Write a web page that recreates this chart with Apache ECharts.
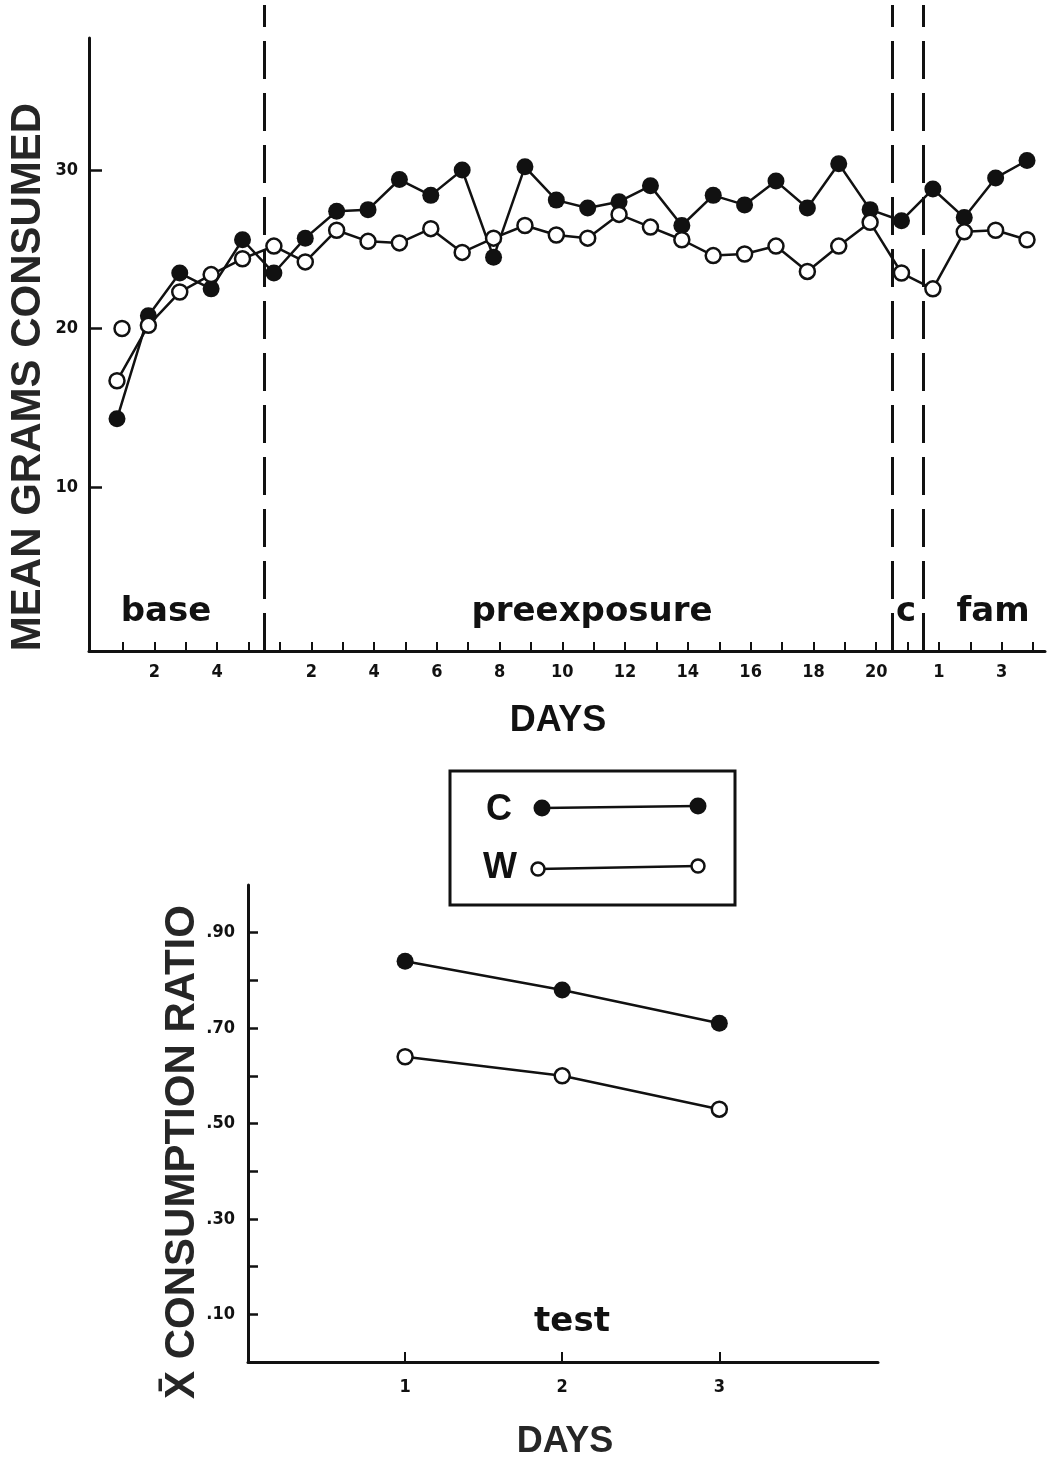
<!DOCTYPE html>
<html>
<head>
<meta charset="utf-8">
<script src="https://cdn.jsdelivr.net/npm/echarts@6/dist/echarts.min.js"></script>
<style>
  html, body { margin: 0; padding: 0; background: #fff; }
  #chart { width: 1053px; height: 1459px; }
</style>
</head>
<body>
<div id="chart"></div>
<script>
// ---------- DATA ----------
// Top panel: mean grams consumed per day, by phase
const phases = ['base', 'preexposure', 'c', 'fam'];
const baseC = [14.3, 20.8, 23.5, 22.5, 25.6];
const preC  = [23.5, 25.7, 27.4, 27.5, 29.4, 28.4, 30.0, 24.5, 30.2, 28.1, 27.6, 28.0, 29.0, 26.5, 28.4, 27.8, 29.3, 27.6, 30.4, 27.5];
const condC = [26.8];
const famC  = [28.8, 27.0, 29.5, 30.6];
const baseW = [16.7, 20.2, 22.3, 23.4, 24.4];
const preW  = [25.2, 24.2, 26.2, 25.5, 25.4, 26.3, 24.8, 25.7, 26.5, 25.9, 25.7, 27.2, 26.4, 25.6, 24.6, 24.7, 25.2, 23.6, 25.2, 26.7];
const condW = [23.5];
const famW  = [22.5, 26.1, 26.2, 25.6];
// lone open circle near base day 1
const extraW = [[1.16, 20.0]];
// tick labels along the day axis (one per day position)
const dayTickLabels = ['', '2', '', '4', '',
  '', '2', '', '4', '', '6', '', '8', '', '10', '', '12', '', '14', '', '16', '', '18', '', '20',
  '',
  '1', '', '3', ''];
const gramTicks = [10, 20, 30];
const phaseBounds = [5.5, 25.5, 26.5];

// Bottom panel: mean consumption ratio on test days
const testDays = [1, 2, 3];
const ratioC = [0.84, 0.78, 0.71];
const ratioW = [0.64, 0.60, 0.53];
const ratioTicks = [0.1, 0.2, 0.3, 0.4, 0.5, 0.6, 0.7, 0.8, 0.9];
const ratioLabelVals = [0.1, 0.3, 0.5, 0.7, 0.9];
const ratioLabels = ['.10', '.30', '.50', '.70', '.90'];

// ---------- BUILD ----------
const allC = baseC.concat(preC, condC, famC);
const allW = baseW.concat(preW, condW, famW);
const cPts = allC.map((v, i) => [i + 1, v]);
const wPts = allW.map((v, i) => [i + 1, v]);
const dayPositions = dayTickLabels.map((_, i) => i + 1);
const dayLabelPositions = dayPositions.filter(p => dayTickLabels[p - 1] !== '');

const INK = '#111';
const TITLE = '#262626';
const narrow = '"DejaVu Sans Condensed", "Liberation Sans Narrow", "Roboto", sans-serif';
const bold = '"Liberation Sans", Arial, sans-serif';
const wide = '"DejaVu Sans", sans-serif';

const filledStyle = { color: INK, opacity: 1 };
const openStyle = { color: '#fff', borderColor: INK, borderWidth: 2.5, opacity: 1 };

const chart = echarts.init(document.getElementById('chart'), null, { renderer: 'canvas' });

const tickAxisMin = -0.0835, tickAxisMax = 30.38;
const tickFont = { color: INK, fontFamily: narrow, fontWeight: 'bold', fontSize: 18 };

chart.setOption({
  animation: false,
  backgroundColor: '#fff',
  grid: [
    { left: 89, right: 8, top: 38, bottom: 808 },
    { left: 89, right: 8, top: 5, bottom: 808 },
    { left: 248, right: 175, top: 885, bottom: 97 }
  ],
  xAxis: [
    { gridIndex: 0, type: 'value', min: 0.108, max: 30.573, show: false, position: 'bottom' },
    {
      gridIndex: 0, type: 'value', min: tickAxisMin, max: tickAxisMax, position: 'bottom',
      axisLine: { show: true, onZero: false, lineStyle: { color: INK, width: 3 } },
      axisTick: { show: true, inside: true, length: 9, lineStyle: { color: INK, width: 2 }, customValues: dayPositions },
      axisLabel: Object.assign({
        show: true, customValues: dayLabelPositions, margin: 12,
        formatter: v => dayTickLabels[Math.round(v) - 1]
      }, tickFont),
      splitLine: { show: false }
    },
    { gridIndex: 1, type: 'value', min: tickAxisMin, max: tickAxisMax, show: false },
    {
      gridIndex: 2, type: 'value', min: 0, max: 4.01,
      axisLine: { show: true, onZero: false, lineStyle: { color: INK, width: 3 } },
      axisTick: { show: true, inside: true, length: 10, lineStyle: { color: INK, width: 2 }, customValues: testDays },
      axisLabel: Object.assign({ show: true, customValues: testDays, margin: 16 }, tickFont),
      splitLine: { show: false }
    }
  ],
  yAxis: [
    {
      gridIndex: 0, type: 'value', min: -0.35, max: 38.33,
      axisLine: { show: true, onZero: false, lineStyle: { color: INK, width: 3 } },
      axisTick: { show: true, inside: true, length: 13, lineStyle: { color: INK, width: 2.5 }, customValues: gramTicks },
      axisLabel: Object.assign({ show: true, customValues: gramTicks, margin: 11 }, tickFont),
      splitLine: { show: false }
    },
    { gridIndex: 1, type: 'value', min: 0, max: 1, show: false },
    {
      gridIndex: 2, type: 'value', min: 0, max: 1.0,
      axisLine: { show: true, onZero: false, lineStyle: { color: INK, width: 3 } },
      axisTick: { show: true, inside: true, length: 10, lineStyle: { color: INK, width: 2.5 }, customValues: ratioTicks },
      axisLabel: Object.assign({
        show: true, customValues: ratioLabelVals, margin: 13,
        formatter: v => ratioLabels[ratioLabelVals.findIndex(t => Math.abs(t - v) < 1e-6)]
      }, tickFont),
      splitLine: { show: false }
    }
  ],
  series: [
    {
      name: 'C', type: 'line', xAxisIndex: 0, yAxisIndex: 0, data: cPts,
      symbol: 'circle', symbolSize: 17, itemStyle: filledStyle,
      lineStyle: { color: INK, width: 2.5 }, z: 3
    },
    {
      name: 'W', type: 'line', xAxisIndex: 0, yAxisIndex: 0, data: wPts,
      symbol: 'circle', symbolSize: 15, itemStyle: openStyle,
      lineStyle: { color: INK, width: 2.5 }, z: 4
    },
    {
      name: 'W extra', type: 'scatter', xAxisIndex: 0, yAxisIndex: 0, data: extraW,
      symbol: 'circle', symbolSize: 15, itemStyle: openStyle, z: 4
    },
    {
      name: 'phases', type: 'line', xAxisIndex: 2, yAxisIndex: 1, data: [],
      markLine: {
        silent: true, symbol: 'none', label: { show: false },
        lineStyle: { color: INK, width: 3, type: [38, 14] },
        data: phaseBounds.map(v => ({ xAxis: v }))
      }
    },
    {
      name: 'C test', type: 'line', xAxisIndex: 3, yAxisIndex: 2,
      data: testDays.map((d, i) => [d, ratioC[i]]),
      symbol: 'circle', symbolSize: 17, itemStyle: filledStyle,
      lineStyle: { color: INK, width: 2.5 }
    },
    {
      name: 'W test', type: 'line', xAxisIndex: 3, yAxisIndex: 2,
      data: testDays.map((d, i) => [d, ratioW[i]]),
      symbol: 'circle', symbolSize: 15, itemStyle: openStyle,
      lineStyle: { color: INK, width: 2.5 }
    }
  ],
  graphic: [
    // axis titles
    { type: 'text', x: 28, y: 377, rotation: Math.PI / 2,
      style: { text: 'MEAN GRAMS CONSUMED', font: 'bold 42px ' + bold, fill: TITLE, textAlign: 'center', textVerticalAlign: 'middle' } },
    { type: 'text', x: 558, y: 721,
      style: { text: 'DAYS', font: 'bold 36px ' + bold, fill: INK, textAlign: 'center', textVerticalAlign: 'middle' } },
    { type: 'text', x: 182, y: 1152, rotation: Math.PI / 2,
      style: { text: 'X\u0304 CONSUMPTION RATIO', font: 'bold 42px ' + bold, fill: TITLE, textAlign: 'center', textVerticalAlign: 'middle' } },
    { type: 'text', x: 565, y: 1442,
      style: { text: 'DAYS', font: 'bold 36px ' + bold, fill: TITLE, textAlign: 'center', textVerticalAlign: 'middle' } },
    // phase labels
    { type: 'text', x: 166, y: 612, style: { text: phases[0], font: 'bold 34px ' + wide, fill: INK, textAlign: 'center', textVerticalAlign: 'middle' } },
    { type: 'text', x: 592, y: 612, style: { text: phases[1], font: 'bold 34px ' + wide, fill: INK, textAlign: 'center', textVerticalAlign: 'middle' } },
    { type: 'text', x: 906, y: 612, style: { text: phases[2], font: 'bold 34px ' + wide, fill: INK, textAlign: 'center', textVerticalAlign: 'middle' } },
    { type: 'text', x: 993, y: 612, style: { text: phases[3], font: 'bold 34px ' + wide, fill: INK, textAlign: 'center', textVerticalAlign: 'middle' } },
    { type: 'text', x: 572, y: 1322, style: { text: 'test', font: 'bold 34px ' + wide, fill: INK, textAlign: 'center', textVerticalAlign: 'middle' } },
    // legend box
    { type: 'rect', shape: { x: 450, y: 771, width: 285, height: 134 }, style: { fill: 'none', stroke: INK, lineWidth: 3 } },
    { type: 'text', x: 499, y: 810, style: { text: 'C', font: 'bold 36px ' + bold, fill: INK, textAlign: 'center', textVerticalAlign: 'middle' } },
    { type: 'text', x: 500, y: 868, style: { text: 'W', font: 'bold 36px ' + bold, fill: INK, textAlign: 'center', textVerticalAlign: 'middle' } },
    { type: 'line', shape: { x1: 542, y1: 808, x2: 698, y2: 806 }, style: { stroke: INK, lineWidth: 2.5 } },
    { type: 'circle', shape: { cx: 542, cy: 808, r: 8.5 }, style: { fill: INK } },
    { type: 'circle', shape: { cx: 698, cy: 806, r: 8.5 }, style: { fill: INK } },
    { type: 'line', shape: { x1: 538, y1: 869, x2: 698, y2: 866 }, style: { stroke: INK, lineWidth: 2.5 } },
    { type: 'circle', shape: { cx: 538, cy: 869, r: 6.5 }, style: { fill: '#fff', stroke: INK, lineWidth: 2.5 }, z: 10 },
    { type: 'circle', shape: { cx: 698, cy: 866, r: 6.5 }, style: { fill: '#fff', stroke: INK, lineWidth: 2.5 }, z: 10 }
  ]
});
</script>
</body>
</html>
